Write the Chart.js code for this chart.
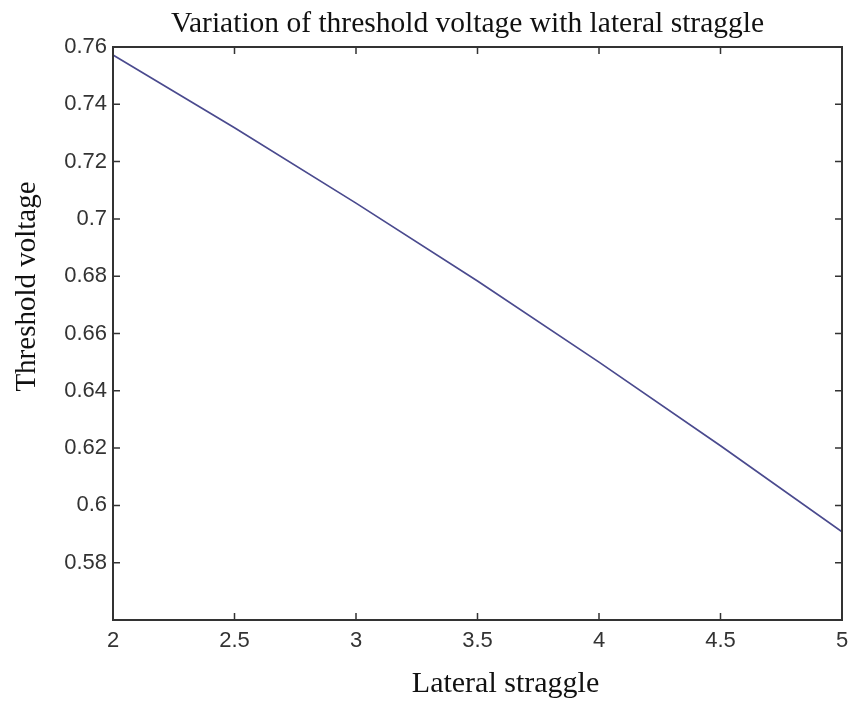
<!DOCTYPE html>
<html>
<head>
<meta charset="utf-8">
<script src="https://cdn.jsdelivr.net/npm/chart.js@4.4.1/dist/chart.umd.min.js"></script>
<style>
  html, body { margin: 0; padding: 0; background: #ffffff; }
  #wrap { width: 854px; height: 701px; }
</style>
</head>
<body>
<div id="wrap"><canvas id="c" width="854" height="701"></canvas></div>
<script>
// ---- data ----
const lateralStraggle = [2, 2.5, 3, 3.5, 4, 4.5, 5];
const thresholdVoltage = [0.7572, 0.7318, 0.7055, 0.6783, 0.6500, 0.6208, 0.5908];
const xTicks = [2, 2.5, 3, 3.5, 4, 4.5, 5];
const xTickLabels = ['2', '2.5', '3', '3.5', '4', '4.5', '5'];
const yTicks = [0.56, 0.58, 0.6, 0.62, 0.64, 0.66, 0.68, 0.7, 0.72, 0.74, 0.76];
const yTickLabels = ['', '0.58', '0.6', '0.62', '0.64', '0.66', '0.68', '0.7', '0.72', '0.74', '0.76'];
const titleText = 'Variation of threshold voltage with lateral straggle';
const xLabelText = 'Lateral straggle';
const yLabelText = 'Threshold voltage';

const boxPlugin = {
  id: 'matlabBox',
  afterDraw(chart) {
    const ctx = chart.ctx;
    const a = chart.chartArea;
    const xs = chart.scales.x, ys = chart.scales.y;
    ctx.save();
    ctx.strokeStyle = '#333333';
    ctx.lineWidth = 2;
    ctx.strokeRect(a.left, a.top, a.right - a.left, a.bottom - a.top);
    ctx.lineWidth = 1.5;
    const tl = 7;
    ctx.beginPath();
    xTicks.forEach(v => {
      const px = xs.getPixelForValue(v);
      ctx.moveTo(px, a.bottom); ctx.lineTo(px, a.bottom - tl);
      ctx.moveTo(px, a.top); ctx.lineTo(px, a.top + tl);
    });
    yTicks.forEach(v => {
      const py = ys.getPixelForValue(v);
      ctx.moveTo(a.left, py); ctx.lineTo(a.left + tl, py);
      ctx.moveTo(a.right, py); ctx.lineTo(a.right - tl, py);
    });
    ctx.stroke();

    ctx.fillStyle = '#111111';
    ctx.textAlign = 'center';
    ctx.textBaseline = 'alphabetic';
    ctx.font = '29.5px "Liberation Serif", "Times New Roman", serif';
    ctx.fillText(titleText, (a.left + a.right) / 2 - 10, 32);
    ctx.font = '30px "Liberation Serif", "Times New Roman", serif';
    ctx.fillText(xLabelText, (a.left + a.right) / 2 + 28, 692);
    ctx.font = '29px "Liberation Serif", "Times New Roman", serif';
    ctx.translate(35, (a.top + a.bottom) / 2 - 47);
    ctx.rotate(-Math.PI / 2);
    ctx.fillText(yLabelText, 0, 0);
    ctx.restore();
  }
};

new Chart(document.getElementById('c'), {
  type: 'line',
  data: {
    datasets: [{
      data: lateralStraggle.map((x, i) => ({ x: x, y: thresholdVoltage[i] })),
      borderColor: '#4a4a8e',
      borderWidth: 1.7,
      pointRadius: 0,
      tension: 0,
      fill: false
    }]
  },
  options: {
    responsive: false,
    animation: false,
    layout: { padding: { top: 47, right: 12, left: 0, bottom: 0 } },
    plugins: { legend: { display: false }, title: { display: false }, tooltip: { enabled: false } },
    scales: {
      x: {
        type: 'linear', min: 2, max: 5,
        afterBuildTicks(s) { s.ticks = xTicks.map(v => ({ value: v })); },
        afterFit(s) { s.height = 81; s.paddingRight = 0; s.paddingLeft = 0; },
        grid: { display: false, drawTicks: false },
        border: { display: false },
        ticks: {
          padding: 8,
          color: '#333333',
          font: { family: '"Liberation Sans", Arial, sans-serif', size: 22 },
          maxRotation: 0,
          autoSkip: false,
          callback(v, i) { return xTickLabels[i]; }
        }
      },
      y: {
        type: 'linear', min: 0.56, max: 0.76,
        afterBuildTicks(s) { s.ticks = yTicks.map(v => ({ value: v })); },
        afterFit(s) { s.width = 113; s.paddingTop = 0; s.paddingBottom = 0; },
        grid: { display: false, drawTicks: false },
        border: { display: false },
        ticks: {
          padding: 6,
          color: '#333333',
          font: { family: '"Liberation Sans", Arial, sans-serif', size: 22 },
          autoSkip: false,
          callback(v, i) { return yTickLabels[i]; }
        }
      }
    }
  },
  plugins: [boxPlugin]
});
</script>
</body>
</html>
